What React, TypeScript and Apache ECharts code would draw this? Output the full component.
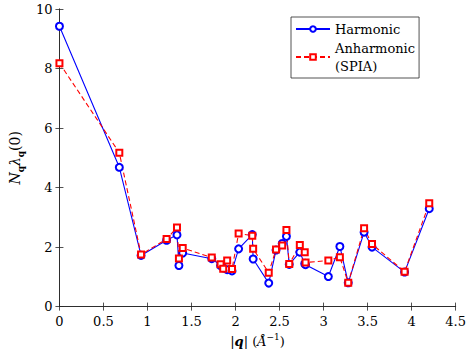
import React, { useEffect, useRef } from "react";
import * as echarts from "echarts";

const qValues = [0, 0.68, 0.927, 1.217, 1.335, 1.357, 1.4, 1.73, 1.83, 1.86, 1.905, 1.96, 2.035, 2.19, 2.2, 2.377, 2.46, 2.53, 2.578, 2.61, 2.73, 2.786, 2.795, 3.054, 3.185, 3.28, 3.46, 3.55, 3.92, 4.2];
const harmonic = [9.42, 4.68, 1.72, 2.23, 2.41, 1.38, 1.8, 1.61, 1.38, 1.3, 1.24, 1.2, 1.94, 2.42, 1.6, 0.79, 1.9, 2.12, 2.36, 1.42, 1.83, 1.44, 1.41, 1.01, 2.02, 0.8, 2.5, 2.0, 1.16, 3.29];
const anharmonic = [8.18, 5.17, 1.75, 2.27, 2.66, 1.62, 1.97, 1.65, 1.42, 1.27, 1.55, 1.26, 2.46, 2.38, 1.94, 1.14, 1.92, 2.05, 2.57, 1.43, 2.07, 1.83, 1.48, 1.55, 1.66, 0.8, 2.63, 2.1, 1.17, 3.47];
const seriesNames = ["Harmonic", "Anharmonic\n(SPIA)"];

const FONT = "DejaVu Serif";
const AX = "#262626";

export default function App() {
  const ref = useRef<HTMLDivElement>(null);
  useEffect(() => {
    if (!ref.current) return;
    const chart = echarts.init(ref.current, null, { renderer: "svg" });
    const tickCommon = { show: true, inside: true, length: 4, lineStyle: { color: AX, width: 0.8 } };
    const lineCommon = { show: true, lineStyle: { color: AX, width: 0.8 } };
    chart.setOption({
      animation: false,
      backgroundColor: "#fff",
      grid: { left: 43, top: 9, right: 12, bottom: 45, containLabel: false },
      legend: {
        orient: "vertical",
        left: 291,
        top: 17,
        itemWidth: 34,
        itemHeight: 7,
        itemGap: 1,
        padding: [3, 4, 3, 4],
        borderColor: AX,
        borderWidth: 0.8,
        backgroundColor: "#fff",
        textStyle: { fontFamily: FONT, fontSize: 13, color: "#000", lineHeight: 18 },
        data: seriesNames,
      },
      xAxis: [
        {
          type: "value",
          min: 0,
          max: 4.5,
          interval: 0.5,
          position: "bottom",
          axisLine: lineCommon,
          axisTick: tickCommon,
          splitLine: { show: false },
          axisLabel: { fontFamily: FONT, fontSize: 13, color: "#000", margin: 8 },
          name: "{n||}{b|q}{n|| (}{i|Å}{p|−1}{n|)}",
          nameLocation: "middle",
          nameGap: 24,
          nameTextStyle: {
            fontFamily: FONT,
            fontSize: 13,
            color: "#000",
            rich: {
              n: { fontFamily: FONT, fontSize: 13, color: "#000", lineHeight: 18 },
              b: { fontFamily: FONT, fontSize: 13, fontWeight: "bold", fontStyle: "italic", color: "#000", lineHeight: 18 },
              i: { fontFamily: FONT, fontSize: 13, fontStyle: "italic", color: "#000", lineHeight: 18 },
              p: { fontFamily: FONT, fontSize: 9, color: "#000", lineHeight: 9, verticalAlign: "top" },
            },
          },
        },
        {
          type: "value",
          min: 0,
          max: 4.5,
          interval: 0.5,
          position: "top",
          axisLine: lineCommon,
          axisTick: tickCommon,
          axisLabel: { show: false },
          splitLine: { show: false },
        },
      ],
      yAxis: [
        {
          type: "value",
          min: 0,
          max: 10,
          interval: 2,
          position: "left",
          axisLine: lineCommon,
          axisTick: tickCommon,
          splitLine: { show: false },
          axisLabel: { fontFamily: FONT, fontSize: 13, color: "#000", margin: 7 },
          name: "{i|N}{s|q}{i|λ}{s|q}{n|(0)}",
          nameLocation: "middle",
          nameGap: 27,
          nameRotate: 90,
          nameTextStyle: {
            fontFamily: FONT,
            fontSize: 14,
            color: "#000",
            rich: {
              i: { fontFamily: FONT, fontSize: 14, fontStyle: "italic", color: "#000", lineHeight: 20 },
              n: { fontFamily: FONT, fontSize: 14, color: "#000", lineHeight: 20 },
              s: { fontFamily: FONT, fontSize: 9, fontWeight: "bold", color: "#000", lineHeight: 10, verticalAlign: "bottom" },
            },
          },
        },
        {
          type: "value",
          min: 0,
          max: 10,
          interval: 2,
          position: "right",
          axisLine: lineCommon,
          axisTick: tickCommon,
          axisLabel: { show: false },
          splitLine: { show: false },
        },
      ],
      series: [
        {
          name: seriesNames[0],
          type: "line",
          data: qValues.map((q, i) => [q, harmonic[i]]),
          symbol: "emptyCircle",
          symbolSize: 7,
          color: "#0000ff",
          lineStyle: { color: "#0000ff", width: 1.1 },
          itemStyle: { color: "#0000ff", borderWidth: 1 },
        },
        {
          name: seriesNames[1],
          type: "line",
          data: qValues.map((q, i) => [q, anharmonic[i]]),
          symbol: "emptyRect",
          symbolSize: 6,
          color: "#ff0000",
          lineStyle: { color: "#ff0000", width: 1.1, type: [5, 3] },
          itemStyle: { color: "#ff0000", borderWidth: 1 },
        },
      ],
    });
    return () => chart.dispose();
  }, []);
  return <div ref={ref} style={{ width: 469, height: 353, position: "absolute", left: 0, top: 0 }} />;
}
